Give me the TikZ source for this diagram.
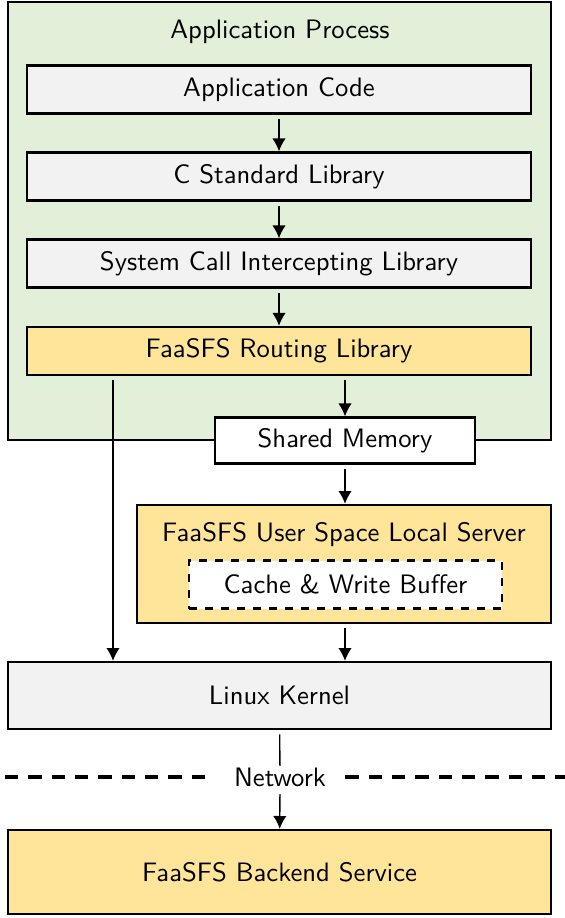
\documentclass[tikz,border=0pt]{standalone}
\usetikzlibrary{arrows.meta}
\definecolor{procgreen}{HTML}{E2EFD9}
\definecolor{libgray}{HTML}{F2F2F2}
\definecolor{fsyellow}{HTML}{FFE599}
\begin{document}
\begin{tikzpicture}[
      x=0.375pt,y=-0.375pt,
      >={Latex[length=4.8pt,width=5pt]},
      font=\sffamily,
      box/.style={
        draw,line width=0.9pt,inner sep=0pt
      },
      layer/.style={
        box,minimum width=189pt,minimum height=18pt
      },
      wide/.style={
        box,minimum width=203.6pt
      },
      flow/.style={
        ->,line width=0.5pt,shorten <=1.6pt
      },
      border/.style={
        line width=1.3pt,dash pattern=on 5pt off 3.75pt
      },
    ]
    \useasboundingbox (0,0) rectangle (565,918);
    \node[wide,fill=procgreen,minimum height=164.3pt] (proc) at (279.5,221) {};
    \node (proctitle) at (280,32) {Application Process};
    \node[layer,fill=libgray] (app) at (279,89.5) {Application Code};
    \node[layer,fill=libgray] (libc) at (279,176.5) {C Standard Library};
    \node[layer,fill=libgray] (intercept) at (279,263.5) {System Call Intercepting Library};
    \node[layer,fill=fsyellow] (route) at (279,351) {FaaSFS Routing Library};
    \node[box,fill=white,minimum width=97.5pt,minimum height=17.25pt] (shm) at (345,440.5) {Shared Memory};
    \node[box,fill=fsyellow,minimum width=155.25pt,minimum height=44.25pt] (server) at (344,564) {};
    \node (servertitle) at (344,535) {FaaSFS User Space Local Server};
    \node[box,dashed,fill=white,minimum width=117.4pt,minimum height=18pt] (cache) at (345.5,584.5) {Cache \& Write Buffer};
    \node[wide,fill=libgray,minimum height=25.1pt] (kernel) at (279.5,695.5) {Linux Kernel};
    \node[inner xsep=7.1pt,inner ysep=0.5pt,text depth=2.2pt] (net) at (280,780) {Network};
    \coordinate (netleft) at (5,777);
    \coordinate (netright) at (565,777);
    \draw[border] (netleft) -- (netleft -| net.west);
    \draw[border] (netright -| net.east) -- (netright);
    \node[wide,fill=fsyellow,minimum height=31.5pt] (backend) at (279.5,872) {FaaSFS Backend Service};
    \coordinate (bypass) at (113,0);
    \draw[flow] (app) -- (libc);
    \draw[flow] (libc) -- (intercept);
    \draw[flow] (intercept) -- (route);
    \draw[flow] (route.south -| shm) -- (shm);
    \draw[flow] (shm) -- (server.north -| shm);
    \draw[flow] (server.south -| shm) -- (kernel.north -| shm);
    \draw[flow] (route.south -| bypass) -- (kernel.north -| bypass);
    \draw[line width=0.5pt,shorten <=1.6pt] (kernel) -- (net);
    \draw[->,line width=0.5pt] (net) -- (backend);
  \end{tikzpicture}
\end{document}
